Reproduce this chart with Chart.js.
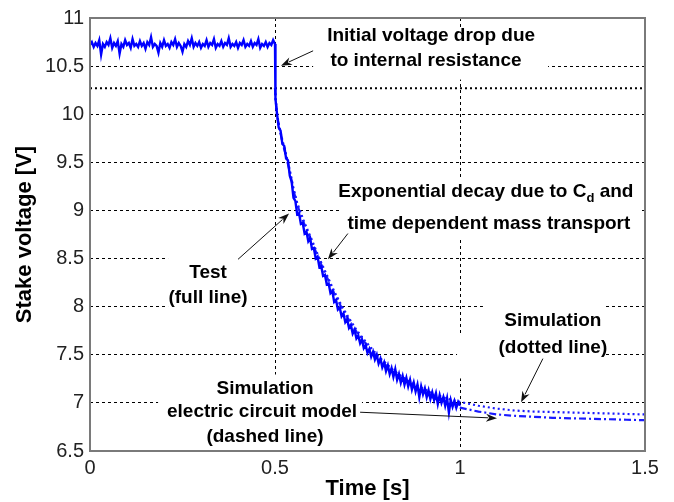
<!DOCTYPE html>
<html><head><meta charset="utf-8">
<script src="https://cdn.jsdelivr.net/npm/chart.js@4/dist/chart.umd.min.js"></script>
<style>html,body{margin:0;padding:0;background:#fff;}</style>
</head><body>
<canvas id="c" width="674" height="502"></canvas>
<script>
// ---------- data ----------
const xTickValues = [0, 0.5, 1, 1.5];
const yTickValues = [6.5, 7, 7.5, 8, 8.5, 9, 9.5, 10, 10.5, 11];

const testTime = [
0,0.005,0.01,0.015,0.02,0.025,0.03,0.035,0.04,0.045,0.05,0.055,0.06,0.065,0.07,0.075,0.08,0.085,0.09,0.095,
0.1,0.105,0.11,0.115,0.12,0.125,0.13,0.135,0.14,0.145,0.15,0.155,0.16,0.165,0.17,0.175,0.18,0.185,0.19,0.195,
0.2,0.205,0.21,0.215,0.22,0.225,0.23,0.235,0.24,0.245,0.25,0.255,0.26,0.265,0.27,0.275,0.28,0.285,0.29,0.295,
0.3,0.305,0.31,0.315,0.32,0.325,0.33,0.335,0.34,0.345,0.35,0.355,0.36,0.365,0.37,0.375,0.38,0.385,0.39,0.395,
0.4,0.405,0.41,0.415,0.42,0.425,0.43,0.435,0.44,0.445,0.45,0.455,0.46,0.465,0.47,0.475,0.48,0.485,0.49,0.495,
0.5,0.5005,0.502,
0.505,0.51,0.515,0.52,0.525,0.53,0.535,0.54,0.545,0.55,0.555,0.56,0.565,0.57,0.575,0.58,0.585,0.59,0.595,
0.6,0.605,0.61,0.615,0.62,0.625,0.63,0.635,0.64,0.645,0.65,0.655,0.66,0.665,0.67,0.675,0.68,0.685,0.69,0.695,
0.7,0.705,0.71,0.715,0.72,0.725,0.73,0.735,0.74,0.745,0.75,0.755,0.76,0.765,0.77,0.775,0.78,0.785,0.79,0.795,
0.8,0.805,0.81,0.815,0.82,0.825,0.83,0.835,0.84,0.845,0.85,0.855,0.86,0.865,0.87,0.875,0.88,0.885,0.89,0.895,
0.9,0.905,0.91,0.915,0.92,0.925,0.93,0.935,0.94,0.945,0.95,0.955,0.96,0.965,0.97,0.975,0.98,0.985,0.99,0.995,1.0
];
const testVoltage = [
10.72,10.75,10.70,10.74,10.71,10.77,10.62,10.73,10.70,10.75,10.72,10.79,10.69,10.74,10.71,10.76,10.63,10.73,10.70,10.77,
10.72,10.74,10.69,10.78,10.71,10.73,10.70,10.76,10.71,10.74,10.68,10.75,10.72,10.80,10.70,10.73,10.71,10.64,10.74,10.70,
10.77,10.71,10.73,10.69,10.75,10.72,10.78,10.70,10.74,10.71,10.65,10.73,10.70,10.76,10.72,10.79,10.70,10.74,10.71,10.75,
10.69,10.73,10.71,10.77,10.70,10.74,10.72,10.78,10.69,10.73,10.71,10.76,10.70,10.74,10.72,10.79,10.70,10.73,10.71,10.75,
10.69,10.74,10.72,10.77,10.70,10.73,10.71,10.76,10.70,10.74,10.72,10.78,10.69,10.73,10.71,10.75,10.70,10.74,10.72,10.77,
10.73,10.26,10.16,
10.02,9.86,9.83,9.69,9.67,9.54,9.52,9.36,9.30,9.13,9.10,8.96,8.97,8.86,8.87,8.76,8.78,8.68,8.71,
8.60,8.61,8.50,8.52,8.41,8.42,8.32,8.33,8.23,8.24,8.14,8.16,8.05,8.07,7.97,7.99,7.90,7.93,7.84,7.87,
7.78,7.81,7.72,7.76,7.67,7.70,7.62,7.66,7.57,7.60,7.52,7.56,7.48,7.53,7.45,7.50,7.41,7.46,7.37,7.42,
7.33,7.39,7.30,7.36,7.27,7.35,7.24,7.30,7.21,7.28,7.19,7.26,7.17,7.24,7.14,7.21,7.12,7.19,7.06,7.17,
7.09,7.15,7.06,7.13,7.04,7.11,7.03,7.10,6.99,7.08,7.00,7.06,6.97,7.05,6.90,7.03,6.96,7.02,6.95,7.01,6.97
];

const simTime = [0.5,0.502,0.505,0.51,0.52,0.53,0.54,0.55,0.56,0.57,0.58,0.59,0.6,0.62,0.64,0.66,0.68,0.7,0.72,0.74,
0.76,0.78,0.8,0.82,0.84,0.86,0.88,0.9,0.92,0.94,0.96,0.98,1.0,1.05,1.1,1.15,1.2,1.25,1.3,1.35,1.4,1.45,1.5];
const simDottedVoltage = [10.27,10.15,10.02,9.90,9.73,9.58,9.42,9.23,9.08,8.97,8.87,8.78,8.69,8.50,8.33,8.16,8.01,7.88,7.76,7.66,
7.57,7.48,7.41,7.34,7.28,7.23,7.19,7.15,7.11,7.08,7.05,7.03,7.01,6.97,6.94,6.92,6.91,6.905,6.90,6.895,6.89,6.885,6.88];
const simDashedVoltage = [10.27,10.14,10.01,9.89,9.71,9.56,9.40,9.21,9.06,8.95,8.85,8.76,8.67,8.48,8.31,8.14,7.99,7.86,7.74,7.64,
7.55,7.46,7.39,7.32,7.26,7.21,7.16,7.11,7.07,7.03,7.00,6.97,6.95,6.91,6.88,6.865,6.855,6.845,6.84,6.835,6.83,6.825,6.82];

const refLineTime = [0, 1.5];
const refLineVoltage = [10.27, 10.27];

// ---------- annotations (data coordinates) ----------
const annoFont = 'bold 19px "Liberation Sans", Arial, sans-serif';
const subFont = 'bold 13px "Liberation Sans", Arial, sans-serif';
const whiteBoxes = [
  [0.603, 10.897, 1.238, 10.36],
  [0.676, 9.328, 1.486, 8.698],
  [0.211, 8.554, 0.432, 7.935],
  [1.062, 8.028, 1.392, 7.718],
  [0.992, 7.718, 1.392, 7.254],
  [0.184, 7.295, 0.735, 6.51]
];
const labels = [
  {parts:[{t:'Initial voltage drop due'}], x:0.922, y:10.814},
  {parts:[{t:'to internal resistance'}], x:0.908, y:10.556},
  {parts:[{t:'Exponential decay due to C'},{t:'d',sub:true},{t:' and'}], x:1.07, y:9.194},
  {parts:[{t:'time dependent mass transport'}], x:1.078, y:8.864},
  {parts:[{t:'Test'}], x:0.319, y:8.348},
  {parts:[{t:'(full line)'}], x:0.319, y:8.090},
  {parts:[{t:'Simulation'}], x:1.251, y:7.852},
  {parts:[{t:'(dotted line)'}], x:1.251, y:7.574},
  {parts:[{t:'Simulation'}], x:0.473, y:7.150},
  {parts:[{t:'electric circuit model'}], x:0.465, y:6.903},
  {parts:[{t:'(dashed line)'}], x:0.473, y:6.645}
];
const arrows = [
  [0.603, 10.659, 0.516, 10.505],
  [0.697, 8.760, 0.643, 8.492],
  [0.400, 8.492, 0.538, 8.967],
  [1.224, 7.460, 1.165, 7.006],
  [0.730, 6.903, 1.100, 6.841]
];

const toXY = (t, v) => t.map((x, i) => ({x: x, y: v[i]}));

const annoPlugin = {
  id: 'anno',
  beforeDatasetsDraw(chart) {
    const ctx = chart.ctx, xs = chart.scales.x, ys = chart.scales.y;
    ctx.save();
    ctx.fillStyle = '#fff';
    whiteBoxes.forEach(b => {
      const x1 = xs.getPixelForValue(b[0]), y1 = ys.getPixelForValue(b[1]);
      const x2 = xs.getPixelForValue(b[2]), y2 = ys.getPixelForValue(b[3]);
      ctx.fillRect(x1, y1, x2 - x1, y2 - y1);
    });
    ctx.fillStyle = '#000';
    ctx.textBaseline = 'middle';
    ctx.textAlign = 'left';
    labels.forEach(l => {
      const cx = xs.getPixelForValue(l.x), cy = ys.getPixelForValue(l.y);
      let w = 0;
      l.parts.forEach(p => { ctx.font = p.sub ? subFont : annoFont; w += ctx.measureText(p.t).width; });
      let x = cx - w / 2;
      l.parts.forEach(p => {
        ctx.font = p.sub ? subFont : annoFont;
        ctx.fillText(p.t, x, p.sub ? cy + 7 : cy);
        x += ctx.measureText(p.t).width;
      });
    });
    ctx.restore();
  },
  afterDatasetsDraw(chart) {
    const ctx = chart.ctx, xs = chart.scales.x, ys = chart.scales.y;
    ctx.save();
    ctx.strokeStyle = '#111';
    ctx.fillStyle = '#111';
    ctx.lineWidth = 1;
    arrows.forEach(a => {
      const x1 = xs.getPixelForValue(a[0]), y1 = ys.getPixelForValue(a[1]);
      const x2 = xs.getPixelForValue(a[2]), y2 = ys.getPixelForValue(a[3]);
      const ang = Math.atan2(y2 - y1, x2 - x1);
      const hl = 11, hw = 4;
      ctx.beginPath(); ctx.moveTo(x1, y1);
      ctx.lineTo(x2 - hl * Math.cos(ang) * 0.8, y2 - hl * Math.sin(ang) * 0.8); ctx.stroke();
      ctx.beginPath();
      ctx.moveTo(x2, y2);
      ctx.lineTo(x2 - hl * Math.cos(ang) + hw * Math.sin(ang), y2 - hl * Math.sin(ang) - hw * Math.cos(ang));
      ctx.lineTo(x2 - hl * 0.7 * Math.cos(ang), y2 - hl * 0.7 * Math.sin(ang));
      ctx.lineTo(x2 - hl * Math.cos(ang) - hw * Math.sin(ang), y2 - hl * Math.sin(ang) + hw * Math.cos(ang));
      ctx.closePath(); ctx.fill();
    });
    ctx.restore();
  },
  afterDraw(chart) {
    const ctx = chart.ctx, a = chart.chartArea;
    ctx.save();
    ctx.strokeStyle = '#7a7a7a';
    ctx.lineWidth = 2;
    ctx.strokeRect(a.left, a.top, a.right - a.left, a.bottom - a.top);
    ctx.restore();
  }
};

const gridColor = (edges) => (c) => (c.tick && edges.includes(c.tick.value)) ? 'rgba(0,0,0,0)' : '#000';

new Chart(document.getElementById('c'), {
  type: 'line',
  data: {
    datasets: [
      {label: 'Test', data: toXY(testTime, testVoltage), borderColor: '#0000ff', borderWidth: 2.4, pointRadius: 0, tension: 0},
      {label: 'Simulation (dotted)', data: toXY(simTime, simDottedVoltage), borderColor: '#1a1aff', borderWidth: 2.2, borderDash: [2, 3], pointRadius: 0},
      {label: 'Simulation (dashed)', data: toXY(simTime, simDashedVoltage), borderColor: '#1a1aff', borderWidth: 2.2, borderDash: [7, 3, 2, 3], pointRadius: 0},
      {label: 'Reference', data: toXY(refLineTime, refLineVoltage), borderColor: '#000', borderWidth: 2, borderDash: [2, 3], pointRadius: 0}
    ]
  },
  options: {
    responsive: false,
    animation: false,
    devicePixelRatio: 1,
    layout: {padding: {top: 15, right: 29, left: 0, bottom: 0}},
    plugins: {legend: {display: false}, tooltip: {enabled: false}},
    scales: {
      x: {
        type: 'linear', min: 0, max: 1.5,
        afterBuildTicks: s => { s.ticks = xTickValues.map(v => ({value: v})); },
        afterFit: s => { s.height = 51; },
        grid: {color: gridColor([0, 1.5]), lineWidth: 1, drawTicks: false},
        border: {display: false, dash: [3, 3]},
        ticks: {color: '#222', padding: 5, font: {family: '"Liberation Sans", Arial', size: 20}, callback: v => String(v), maxRotation: 0},
        title: {display: true, text: 'Time [s]', color: '#000', font: {family: '"Liberation Sans", Arial', size: 22, weight: 'bold'}, padding: {top: 0, bottom: 0}}
      },
      y: {
        type: 'linear', min: 6.5, max: 11,
        afterBuildTicks: s => { s.ticks = yTickValues.map(v => ({value: v})); },
        afterFit: s => { s.width = 90; },
        grid: {color: gridColor([6.5, 11]), lineWidth: 1, drawTicks: false},
        border: {display: false, dash: [3, 3]},
        ticks: {color: '#222', padding: 6, font: {family: '"Liberation Sans", Arial', size: 20}, callback: v => String(v)},
        title: {display: true, text: 'Stake voltage [V]', color: '#000', font: {family: '"Liberation Sans", Arial', size: 22, weight: 'bold'}, padding: {top: 12, bottom: 0}}
      }
    }
  },
  plugins: [annoPlugin]
});
</script>
</body></html>
